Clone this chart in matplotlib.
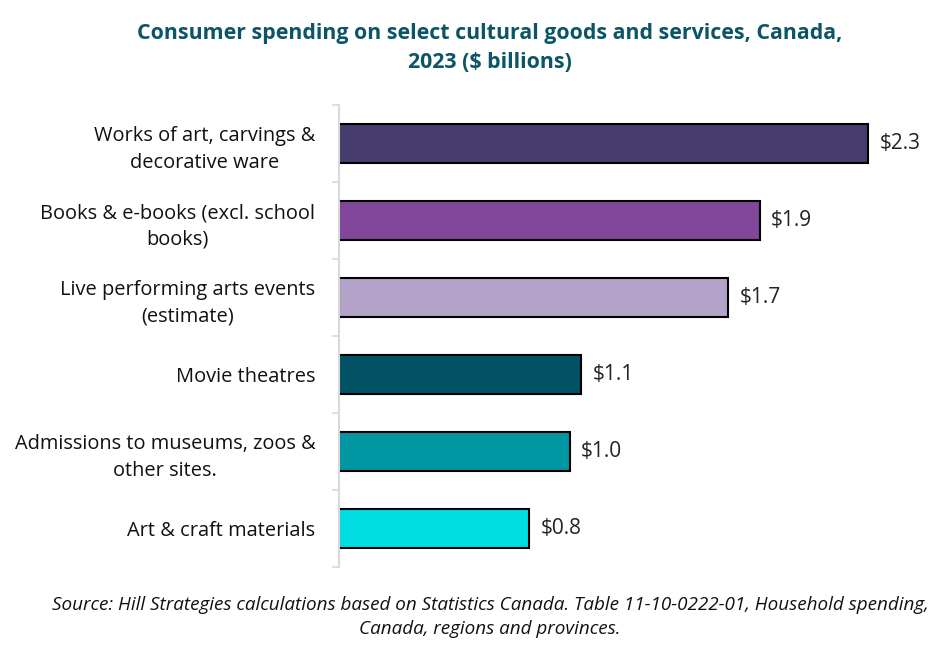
import matplotlib
matplotlib.use("Agg")
import matplotlib.pyplot as plt

categories = [
    "Works of art, carvings &\ndecorative ware",
    "Books & e-books (excl. school\nbooks)",
    "Live performing arts events\n(estimate)",
    "Movie theatres",
    "Admissions to museums, zoos &\nother sites.",
    "Art & craft materials",
]
values = [2.34, 1.86, 1.72, 1.07, 1.02, 0.84]
colors = ["#463C6E", "#80479A", "#B3A3C8", "#005264", "#0096A2", "#00DDE3"]

title = "Consumer spending on select cultural goods and services, Canada,\n2023 ($ billions)"
source = ("Source: Hill Strategies calculations based on Statistics Canada. Table 11-10-0222-01, Household spending,\n"
          "Canada, regions and provinces.")

plt.rcParams['font.family'] = ['Open Sans', 'DejaVu Sans']

fig = plt.figure(figsize=(9.45, 6.61), dpi=100)
ax = fig.add_axes([339/945, 1-567/661, 588/945, (567-105)/661])

ypos = list(range(len(categories)))
ax.barh(ypos, values, height=0.5, color=colors, edgecolor="black", linewidth=1.5)
ax.set_ylim(len(categories)-0.5, -0.5)
ax.set_xlim(0, 2.6)

for y, v in zip(ypos, values):
    ax.text(v + 0.05, y, f"${v:.1f}", va="center", ha="left", fontsize=15, color="#222222")

ax.set_yticks(ypos)
ax.set_yticklabels(categories, fontsize=14.4, color="#111111", linespacing=1.45)
ax.set_yticks([i - 0.5 for i in range(len(categories)+1)], minor=True)
ax.tick_params(axis="y", which="major", length=0, pad=17)
ax.tick_params(axis="y", which="minor", length=5, width=1.2, color="#D9D9D9", direction="out")
ax.set_xticks([])
for s in ["top", "right", "bottom"]:
    ax.spines[s].set_visible(False)
ax.spines["left"].set_color("#D9D9D9")
ax.spines["left"].set_linewidth(1.5)
for lbl in ax.get_yticklabels():
    lbl.set_horizontalalignment("right")
    lbl.set_multialignment("center")

fig.text(490/945, 1-48/661, title, ha="center", va="center", fontsize=15.4, fontweight="bold",
         color="#0B5566", linespacing=1.45)
fig.text(490/945, 1-617/661, source, ha="center", va="center", fontsize=13.6, style="italic",
         color="#111111", linespacing=1.45)

fig.savefig("out.png", dpi=100)
